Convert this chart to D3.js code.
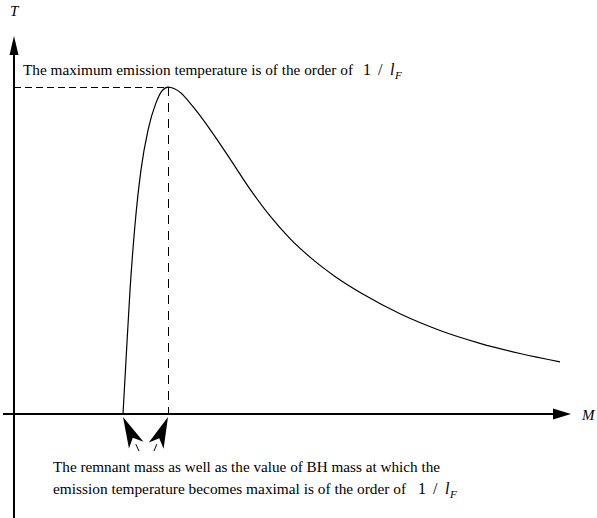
<!DOCTYPE html>
<html><head><meta charset="utf-8">
<script src="https://cdn.jsdelivr.net/npm/d3@7"></script>
<style>body{margin:0;background:#fff}svg{display:block}</style>
</head><body>
<svg id="c" width="597" height="518"></svg>
<script>
// Curve data (arbitrary units): BH mass M vs emission temperature T
const massM = [1.957, 2.011, 2.083, 2.172, 2.280, 2.406, 2.549, 2.657, 2.765, 2.873, 2.998, 3.124, 3.268, 3.519, 3.878, 4.237, 4.596, 4.955, 5.314, 5.763, 6.302, 6.930, 7.648, 8.366, 9.084, 9.803];
const tempT = [0.000, 1.43, 3.28, 5.00, 6.46, 7.51, 8.23, 8.55, 8.65, 8.61, 8.49, 8.29, 8.03, 7.53, 6.75, 5.95, 5.24, 4.64, 4.15, 3.64, 3.14, 2.65, 2.21, 1.87, 1.60, 1.38];
const remnantM = 1.957;
const peakM = 2.765, peakT = 8.65;
const axisLabels = ["T", "M"];
const topText = "The maximum emission temperature is of the order of";
const bottomText1 = "The remnant mass as well as the value of BH mass at which the";
const bottomText2 = "emission temperature becomes maximal is of the order of";

const svg = d3.select("#c");
const x = d3.scaleLinear().domain([0, 10]).range([14, 571]);
const y = d3.scaleLinear().domain([0, 10]).range([414, 36]);
const font = "'Liberation Serif','Times New Roman',serif";

// axes
svg.append("line").attr("x1", x(0)).attr("x2", x(0)).attr("y1", y(9.6)).attr("y2", 518)
  .attr("stroke", "#000").attr("stroke-width", 1.2).attr("shape-rendering", "crispEdges");
svg.append("line").attr("x1", 3).attr("x2", x(9.7)).attr("y1", y(0)).attr("y2", y(0))
  .attr("stroke", "#000").attr("stroke-width", 1.4).attr("shape-rendering", "crispEdges");
function arrowHead(tx, ty, dx, dy, len, hw) {
  const px = -dy, py = dx;
  const bx = tx - dx * len, by = ty - dy * len;
  return `M${tx},${ty}L${bx + px * hw},${by + py * hw}L${bx - px * hw},${by - py * hw}Z`;
}
svg.append("path").attr("d", arrowHead(x(0), y(10), 0, -1, 19, 4.5)).attr("fill", "#000");
svg.append("path").attr("d", arrowHead(x(10), y(0), 1, 0, 18, 5.5)).attr("fill", "#000");

svg.append("text").attr("x", 10).attr("y", 16).attr("font-family", font).attr("font-style", "italic")
  .attr("font-size", 15).text(axisLabels[0]);
svg.append("text").attr("x", 582).attr("y", 420).attr("font-family", font).attr("font-style", "italic")
  .attr("font-size", 15).text(axisLabels[1]);

// dashed guide lines
svg.append("line").attr("x1", x(0)).attr("x2", x(peakM)).attr("y1", y(peakT)).attr("y2", y(peakT))
  .attr("stroke", "#000").attr("stroke-width", 1).attr("stroke-dasharray", "7,4").attr("shape-rendering", "crispEdges");
svg.append("line").attr("x1", x(peakM)).attr("x2", x(peakM)).attr("y1", y(peakT)).attr("y2", y(0))
  .attr("stroke", "#000").attr("stroke-width", 1).attr("stroke-dasharray", "9,7").attr("shape-rendering", "crispEdges");

// curve
const pts = massM.map((m, i) => [m, tempT[i]]);
svg.append("path").datum(pts)
  .attr("d", d3.line().x(d => x(d[0])).y(d => y(d[1])).curve(d3.curveMonotoneX))
  .attr("fill", "none").attr("stroke", "#000").attr("stroke-width", 1.2);

// annotation darts at the bottom
function dart(tx, ty, fx, fy) {
  const L = Math.hypot(tx - fx, ty - fy);
  const dx = (tx - fx) / L, dy = (ty - fy) / L;
  const px = -dy, py = dx;
  const len = 31, hw = 8, notch = 23;
  const b1 = [tx - dx * len + px * hw, ty - dy * len + py * hw];
  const b2 = [tx - dx * len - px * hw, ty - dy * len - py * hw];
  const n = [tx - dx * notch, ty - dy * notch];
  return `M${tx},${ty}L${b1[0]},${b1[1]}L${n[0]},${n[1]}L${b2[0]},${b2[1]}Z`;
}
const tipY = y(0) + 3;
const darts = [[x(remnantM), tipY, x(remnantM) + 16, tipY + 34], [x(peakM), tipY, x(peakM) - 14, tipY + 34]];
darts.forEach(d => {
  svg.append("path").attr("d", dart(d[0], d[1], d[2], d[3])).attr("fill", "#000");
  svg.append("line").attr("x1", d[0] + (d[2] - d[0]) * 0.8).attr("y1", d[1] + (d[3] - d[1]) * 0.8)
    .attr("x2", d[2]).attr("y2", d[3]).attr("stroke", "#000").attr("stroke-width", 1);
});

// texts
function line(tx, ty, str, width) {
  svg.append("text").attr("x", tx).attr("y", ty).attr("font-family", font).attr("font-size", 15.5)
    .attr("textLength", width).attr("lengthAdjust", "spacingAndGlyphs").text(str);
}
function oneOverLF(tx, ty) {
  const parts = [["1", 0, 0, 16, "normal"], ["/", 15, 0, 16, "normal"], ["l", 27, 0, 16, "italic"], ["F", 32, 4, 11, "italic"]];
  parts.forEach(p => svg.append("text").attr("x", tx + p[1]).attr("y", ty + p[2]).attr("font-family", font)
    .attr("font-size", p[3]).attr("font-style", p[4]).text(p[0]));
}
line(23, 75, topText, 330);
oneOverLF(363, 75);
line(53, 472, bottomText1, 387);
line(53, 494, bottomText2, 353);
oneOverLF(418, 494);
</script>
</body></html>
